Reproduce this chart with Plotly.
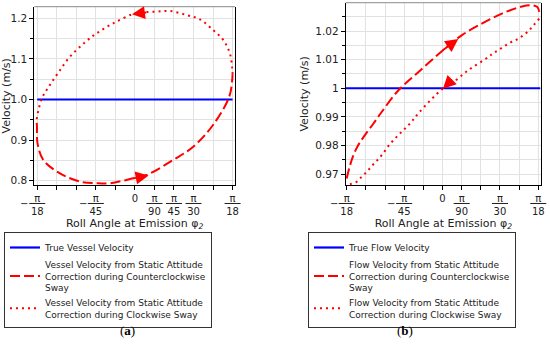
import plotly.graph_objects as go

# ---------------- Data ----------------
# Roll angle in degrees, velocity in m/s
# Panel (a): vessel velocity
a_true_x = [-10.0, 10.0]
a_true_y = [1.0, 1.0]
a_ccw_x = [-10.05, -10.03, -9.97, -9.38, -7.68, -5.6, -3.92, -2.56, -0.17, 1.2, 3.92, 5.97, 8.0, 9.66, 9.96, 10.0]
a_ccw_y = [0.942, 0.933, 0.892, 0.851, 0.818, 0.7975, 0.7936, 0.7936, 0.806, 0.814, 0.851, 0.8837, 0.9372, 1.0069, 1.048, 1.062]
a_cw_x = [10.0, 9.96, 9.72, 9.04, 8.0, 6.65, 5.3, 3.58, 2.22, 0.85, -0.17, -2.22, -3.92, -5.1, -6.65, -7.85, -8.77, -9.55, -10.06, -10.05]
a_cw_y = [1.062, 1.077, 1.114, 1.147, 1.171, 1.1975, 1.208, 1.218, 1.2163, 1.215, 1.2106, 1.1877, 1.163, 1.141, 1.1054, 1.066, 1.0333, 1.0012, 0.9495, 0.942]

# Panel (b): flow velocity
b_true_x = [-10.2, 10.2]
b_true_y = [1.0, 1.0]
b_ccw_x = [-10.0, -9.7, -9.3, -8.8, -8.1, -7.2, -6.35, -4.6, -2.5, 0.26, 2.0, 4.1, 6.2, 8.3, 9.3, 9.9, 10.1]
b_ccw_y = [0.9685, 0.9725, 0.9766, 0.9801, 0.9836, 0.9877, 0.9917, 0.9993, 1.0057, 1.0139, 1.0185, 1.0226, 1.0261, 1.0286, 1.0290, 1.0284, 1.0267]
b_cw_x = [10.1, 9.5, 9.06, 8.43, 7.75, 7.12, 6.45, 5.82, 5.24, 4.78, 2.69, 0.96, 0.0, -2.45, -3.39, -4.44, -5.48, -6.35, -6.87, -7.39, -7.91, -8.43, -8.96, -9.66, -10.0]
b_cw_y = [1.0243, 1.0220, 1.0203, 1.0185, 1.0170, 1.0160, 1.0147, 1.0133, 1.0121, 1.0109, 1.0063, 1.0017, 0.9998, 0.9915, 0.9877, 0.9842, 0.9805, 0.9766, 0.9746, 0.9728, 0.9708, 0.9691, 0.9673, 0.9665, 0.9663]

# Direction arrows (tail -> tip)
a_arrow_ccw = dict(tail=(-0.3, 0.8050), tip=(1.4, 0.8130))
a_arrow_cw = dict(tail=(1.3, 1.2150), tip=(-0.3, 1.2100))
b_arrow_ccw = dict(tail=(-0.1, 1.0130), tip=(1.65, 1.0172))
b_arrow_cw = dict(tail=(1.15, 1.0035), tip=(0.05, 0.9998))

# Tick labels
a_xtick_vals = [-10, -4, 0, 2, 4, 6, 10]
a_xtick_den = ["18", "45", "", "90", "45", "30", "18"]
b_xtick_vals = [-10, -4, 0, 2, 6, 10]
b_xtick_den = ["18", "45", "", "90", "30", "18"]
a_ytick_vals = [0.8, 0.9, 1.0, 1.1, 1.2]
a_ytick_text = ["0.8", "0.9", "1.0", "1.1", "1.2"]
b_ytick_vals = [0.97, 0.98, 0.99, 1.0, 1.01, 1.02]
b_ytick_text = ["0.97", "0.98", "0.99", "1", "1.01", "1.02"]

a_names = ["True Vessel Velocity",
           "Vessel Velocity from Static Attitude<br>Correction during Counterclockwise<br>Sway",
           "Vessel Velocity from Static Attitude<br>Correction during Clockwise Sway"]
b_names = ["True Flow Velocity",
           "Flow Velocity from Static Attitude<br>Correction during Counterclockwise<br>Sway",
           "Flow Velocity from Static Attitude<br>Correction during Clockwise Sway"]

FONT = "DejaVu Sans"
BLUE = "#0000ff"
RED = "#ff0000"
GRID = "#e2e2e2"


def frac_text(vals, dens):
    out = []
    for v, d in zip(vals, dens):
        if v == 0:
            out.append("0")
        else:
            out.append("<u>\u2002π\u2002</u><br>" + d)
    return out


fig = go.Figure()

for (tx, ty, cx, cy, wx, wy, names, xa, ya, lg) in [
    (a_true_x, a_true_y, a_ccw_x, a_ccw_y, a_cw_x, a_cw_y, a_names, "x", "y", "legend"),
    (b_true_x, b_true_y, b_ccw_x, b_ccw_y, b_cw_x, b_cw_y, b_names, "x2", "y2", "legend2"),
]:
    fig.add_trace(go.Scatter(x=tx, y=ty, mode="lines", name=names[0],
                             line=dict(color=BLUE, width=2.2), xaxis=xa, yaxis=ya, legend=lg))
    fig.add_trace(go.Scatter(x=cx, y=cy, mode="lines", name=names[1], line_shape="spline",
                             line=dict(color=RED, width=2, dash="10px,4px"), xaxis=xa, yaxis=ya, legend=lg))
    fig.add_trace(go.Scatter(x=wx, y=wy, mode="lines", name=names[2], line_shape="spline",
                             line=dict(color=RED, width=2, dash="2px,4px"), xaxis=xa, yaxis=ya, legend=lg))

A_DOM_X = [0.0624, 0.4273]
B_DOM_X = [0.6286, 0.9836]
A_DOM_Y = [0.4669, 0.9807]
B_DOM_Y = [0.4669, 0.9922]


def xaxis(dom, rng, vals, dens, anchor):
    return dict(domain=dom, range=rng, anchor=anchor, tickmode="array", automargin=False,
                tickvals=vals, ticktext=frac_text(vals, dens),
                ticks="outside", ticklen=4, tickcolor="black", tickwidth=1,
                showline=True, linecolor="black", linewidth=1, mirror=False,
                showgrid=True, gridcolor=GRID, gridwidth=1, zeroline=False,
                minor=dict(dtick=2, tick0=0, ticks="outside", ticklen=4, tickcolor="black",
                           showgrid=True, gridcolor=GRID),
                tickfont=dict(family=FONT, size=10, color="#222"),
                title=dict(text="Roll Angle at Emission φ<sub><i>2</i></sub>",
                           font=dict(family=FONT, size=11, color="#222"), standoff=2),
                fixedrange=True)


def yaxis(dom, rng, vals, texts, minor_dt, anchor):
    return dict(domain=dom, range=rng, anchor=anchor, tickmode="array", automargin=False,
                tickvals=vals, ticktext=texts,
                ticks="outside", ticklen=4, tickcolor="black",
                showline=True, linecolor="black", linewidth=1, mirror=True,
                showgrid=True, gridcolor=GRID, zeroline=False,
                minor=dict(dtick=minor_dt, tick0=1.0, ticks="outside", ticklen=3, tickcolor="black",
                           showgrid=True, gridcolor=GRID),
                tickfont=dict(family=FONT, size=10.5, color="#222"),
                title=dict(text="Velocity (m/s)", font=dict(family=FONT, size=11, color="#222"), standoff=4),
                fixedrange=True)


annotations = []
for arr, xr, yr in [(a_arrow_ccw, "x", "y"), (a_arrow_cw, "x", "y"),
                    (b_arrow_ccw, "x2", "y2"), (b_arrow_cw, "x2", "y2")]:
    annotations.append(dict(x=arr["tip"][0], y=arr["tip"][1], ax=arr["tail"][0], ay=arr["tail"][1],
                            xref=xr, yref=yr, axref=xr, ayref=yr, text="", showarrow=True,
                            arrowhead=2, arrowsize=1.3, arrowwidth=2, arrowcolor=RED))

# minus signs of the negative fraction tick labels
for vals, xr, ybot in [(a_xtick_vals, "x", A_DOM_Y[0]), (b_xtick_vals, "x2", B_DOM_Y[0])]:
    for v in vals:
        if v < 0:
            annotations.append(dict(x=v, y=ybot, xref=xr, yref="paper", text="−", showarrow=False,
                                    xanchor="center", yanchor="middle", xshift=-13, yshift=-19,
                                    font=dict(family=FONT, size=10, color="#222")))

annotations.append(dict(x=118 / 550, y=1 - 340 / 347, xref="paper", yref="paper", text="(<b>a</b>)",
                        showarrow=False, font=dict(family="Liberation Serif", size=13, color="black")))
annotations.append(dict(x=415 / 550, y=1 - 340 / 347, xref="paper", yref="paper", text="(<b>b</b>)",
                        showarrow=False, font=dict(family="Liberation Serif", size=13, color="black")))

shapes = []
for xr, yr in [("x domain", "y domain"), ("x2 domain", "y2 domain")]:
    shapes.append(dict(type="line", xref=xr, yref=yr, x0=0, x1=1, y0=1, y1=1,
                       line=dict(color="#8a8a8a", width=1)))

legend_common = dict(font=dict(family=FONT, size=9, color="#222"), bgcolor="white",
                     bordercolor="#333", borderwidth=1, xanchor="left", yanchor="top",
                     tracegroupgap=0, itemwidth=30, valign="middle")

fig.update_layout(
    width=550, height=347,
    margin=dict(l=0, r=0, t=0, b=0, autoexpand=False),
    paper_bgcolor="white", plot_bgcolor="white",
    font=dict(family=FONT, size=10, color="#222"),
    xaxis=xaxis(A_DOM_X, [-10.3, 10.25], a_xtick_vals, a_xtick_den, "y"),
    yaxis=yaxis(A_DOM_Y, [0.7894, 1.2286], a_ytick_vals, a_ytick_text, 0.05, "x"),
    xaxis2=xaxis(B_DOM_X, [-10.1, 10.28], b_xtick_vals, b_xtick_den, "y2"),
    yaxis2=yaxis(B_DOM_Y, [0.9662, 1.0299], b_ytick_vals, b_ytick_text, 0.005, "x2"),
    legend=dict(x=4 / 550, y=1 - 232 / 347, **legend_common),
    legend2=dict(x=308 / 550, y=1 - 232 / 347, **legend_common),
    annotations=annotations,
    shapes=shapes,
    showlegend=True,
)

fig.write_html("out.html", config={"displayModeBar": False},
               post_script="document.body.style.margin='0';document.body.style.overflow='hidden';")
